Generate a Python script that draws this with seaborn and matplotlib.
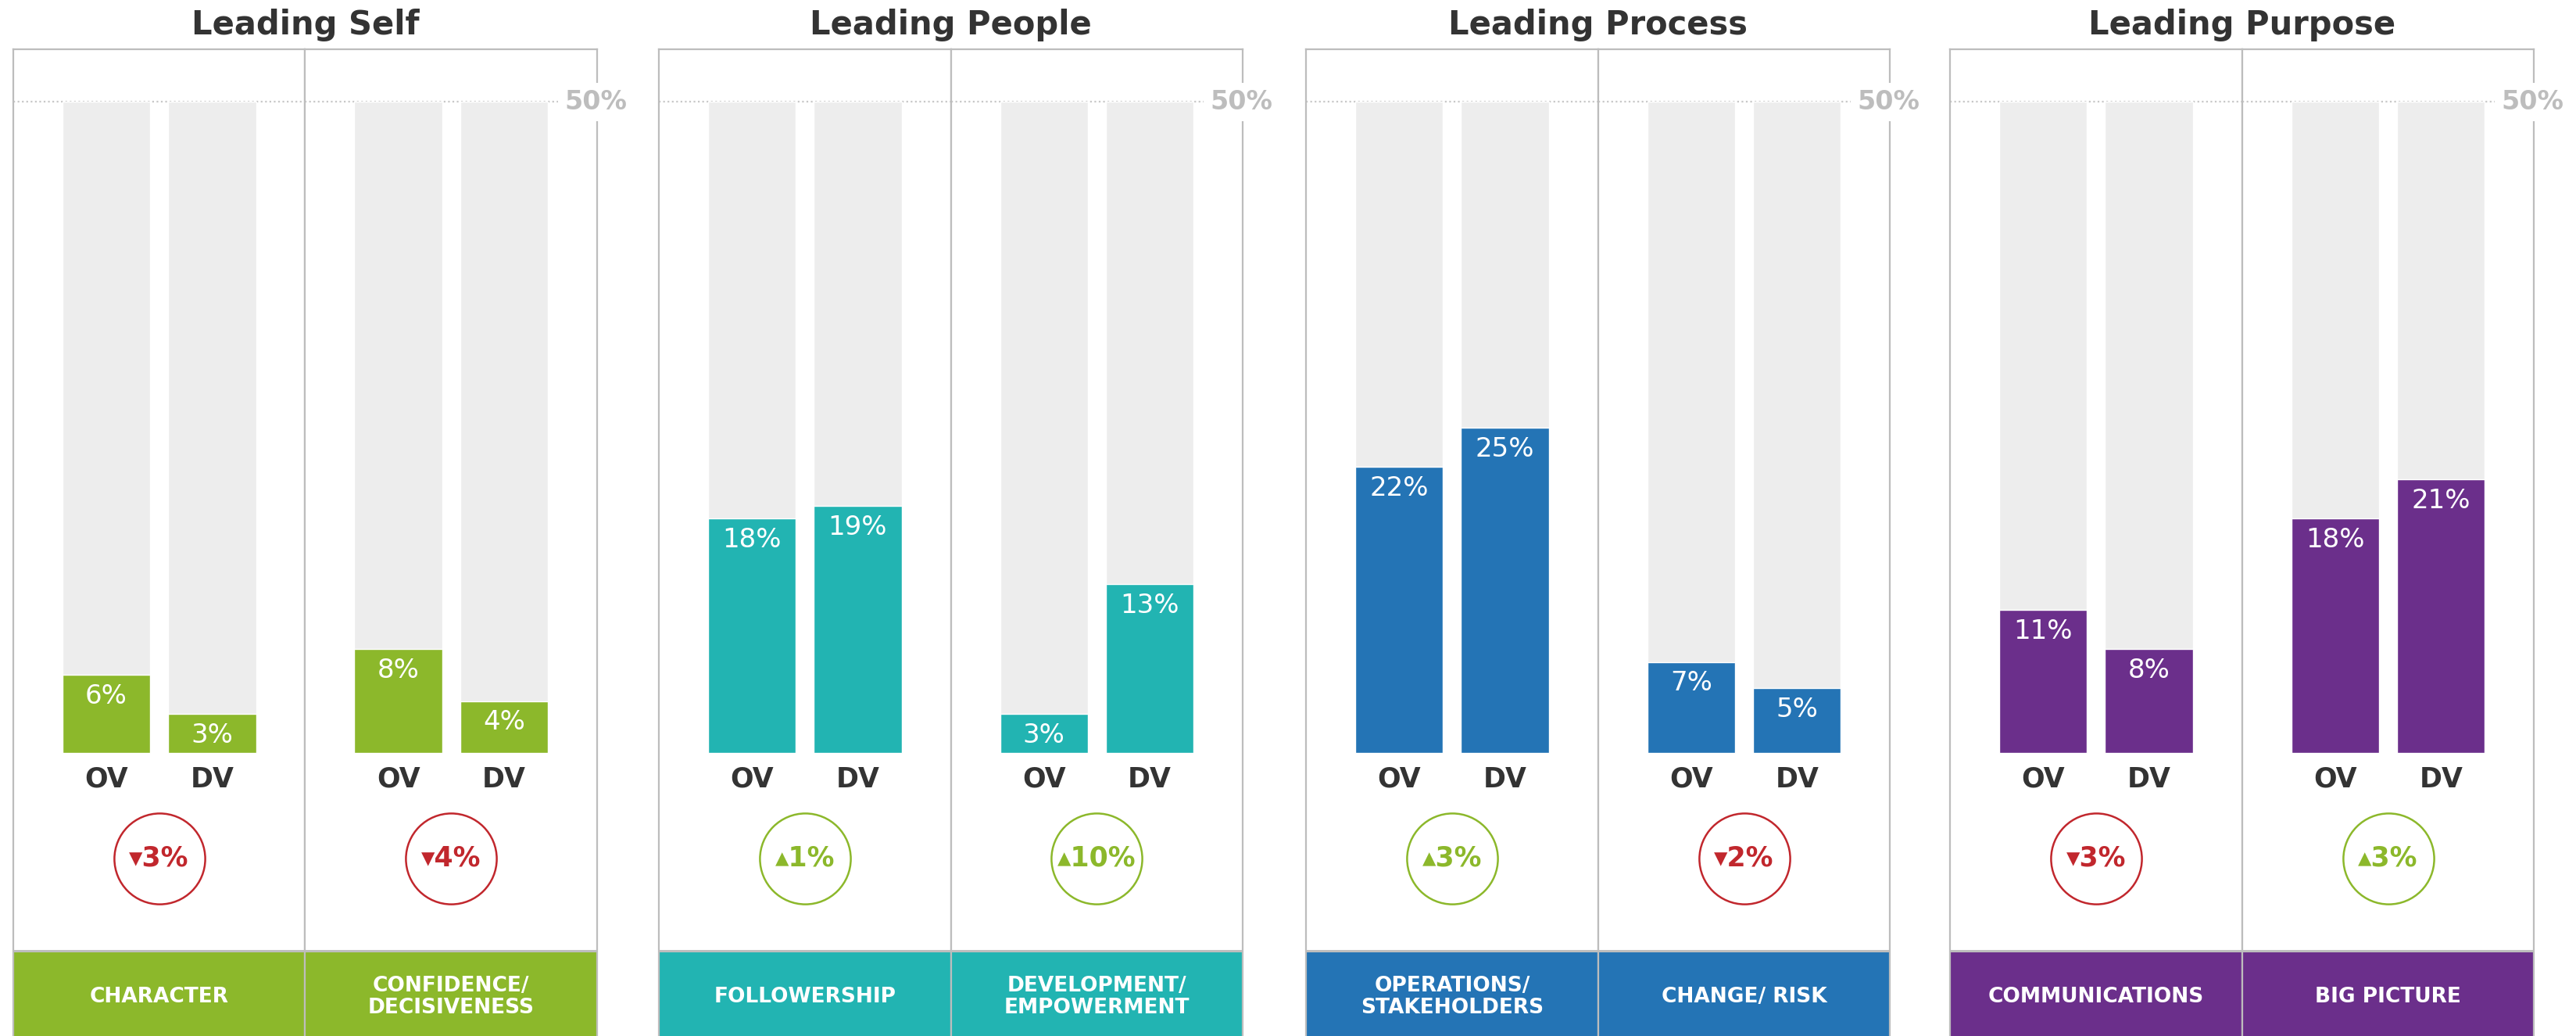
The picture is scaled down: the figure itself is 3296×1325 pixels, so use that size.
import matplotlib
matplotlib.use('Agg')
import matplotlib.pyplot as plt
import seaborn as sns
import numpy as np

# leadership survey: OV vs DV share per competency, grouped in four areas
groups = ['Leading Self', 'Leading People', 'Leading Process', 'Leading Purpose']
competencies = ['CHARACTER', 'CONFIDENCE/\nDECISIVENESS',
                'FOLLOWERSHIP', 'DEVELOPMENT/\nEMPOWERMENT',
                'OPERATIONS/\nSTAKEHOLDERS', 'CHANGE/ RISK',
                'COMMUNICATIONS', 'BIG PICTURE']
ov = [6, 8, 18, 3, 22, 7, 11, 18]
dv = [3, 4, 19, 13, 25, 5, 8, 21]
bar_labels = ['OV', 'DV']
scale_max = 50

group_colors = ['#8cb82b', '#22b4b2', '#2474b5', '#6b2f8b']
up_color = '#8cb82b'
down_color = '#c1272d'
edge_gray = '#bdbdbd'
dark = '#333333'

sns.set_style('white')
plt.rcParams['font.family'] = ['DejaVu Sans']

W, H = 1568.0, 630.0  # layout measured on the shrunk reference
fig = plt.figure(figsize=(32.96, 13.25), dpi=100)

group_left = [8, 401, 795, 1187]
sub_w = 177.75
box_top = 30
px_per_pct = (458 - 62) / 50.0
y_top = (458 - box_top) / px_per_pct
y_bot = -(H - 458) / px_per_pct
y_cat = -(474 - 458) / px_per_pct
y_circle = -(522 - 458) / px_per_pct
y_band = -(578 - 458) / px_per_pct
y_band_txt = -(606 - 458) / px_per_pct

for g, gname in enumerate(groups):
    color = group_colors[g]
    gl = group_left[g]
    fig.text((gl + sub_w) / W, 1 - 15 / H, gname, ha='center', va='center',
             fontsize=30, fontweight='bold', color=dark)
    for s in range(2):
        i = g * 2 + s
        ax = fig.add_axes([(gl + s * sub_w) / W, 0, sub_w / W, 1 - box_top / H])
        sns.barplot(x=bar_labels, y=[scale_max, scale_max], color='#ededed',
                    saturation=1, width=0.83, ax=ax, zorder=1)
        sns.barplot(x=bar_labels, y=[ov[i], dv[i]], color=color,
                    saturation=1, width=0.83, ax=ax, zorder=2)
        ax.set_xlim(-0.88, 1.88)
        ax.set_ylim(y_bot, y_top)
        ax.set_xlabel('')
        ax.set_ylabel('')
        ax.set_xticks([])
        ax.set_yticks([])
        for side in ['left', 'right', 'top']:
            ax.spines[side].set_color(edge_gray)
            ax.spines[side].set_linewidth(1.6)
        ax.spines['bottom'].set_visible(False)

        ax.axhline(scale_max, color='#c8c8c8', ls=(0, (1, 1.5)), lw=1.6, zorder=0.5)

        for k, val in enumerate([ov[i], dv[i]]):
            ax.text(k, val - 13 / px_per_pct, f'{val}%', ha='center', va='center',
                    fontsize=24.5, color='white', zorder=4)
            ax.text(k, y_cat, bar_labels[k], ha='center', va='center',
                    fontsize=25, fontweight='bold', color=dark)

        diff = dv[i] - ov[i]
        c = up_color if diff > 0 else down_color
        arrow = '▴' if diff > 0 else '▾'
        ax.scatter([0.5], [y_circle], s=7000, facecolors='white', edgecolors=c,
                   linewidths=1.8, zorder=3)
        ax.text(0.5, y_circle, f'{arrow}{abs(diff)}%', ha='center', va='center',
                fontsize=25, fontweight='bold', color=c, zorder=4)

        ax.axhspan(y_bot - 5, y_band, color=color, lw=0, zorder=1)
        ax.axhline(y_band, color=edge_gray, lw=2.2, zorder=2)
        ax.text(0.5, y_band_txt, competencies[i], ha='center', va='center',
                fontsize=19, fontweight='bold', color='white', linespacing=1.1,
                zorder=4)

        if s == 1:
            ax.text(0.995, scale_max, '50%', transform=ax.get_yaxis_transform(),
                    ha='center', va='center', fontsize=24, fontweight='bold',
                    color='#bdbdbd', zorder=6, clip_on=False,
                    bbox=dict(boxstyle='square,pad=0.25', fc='white', ec='none'))

plt.savefig('out.png', dpi=100)
